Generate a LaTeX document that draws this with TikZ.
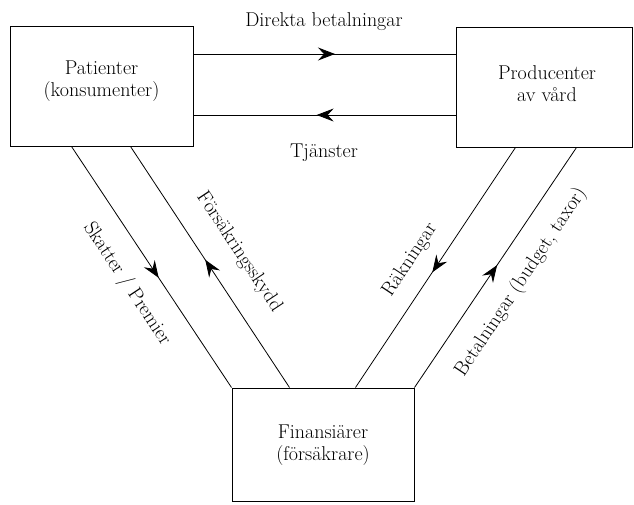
\documentclass[tikz,border=0pt]{standalone}
\usepackage{fontspec}
\usetikzlibrary{arrows.meta,decorations.markings,calc}
\begin{document}
\begin{tikzpicture}[x=1pt,y=-1pt,
  box/.style={draw,line width=1pt,inner sep=0pt},
  boxtext/.style={align=center,inner sep=0pt,font=\fontsize{20}{22}\selectfont},
  lbl/.style={inner sep=0pt,font=\fontsize{20}{22}\selectfont},
  conn/.style={line width=0.8pt},
  midarrow/.style={postaction={decorate,decoration={markings,
     mark=at position #1 with {\arrow{Stealth[length=17pt,width=13pt,inset=6pt]}}}}}]
\useasboundingbox (0,0) rectangle (634,504);
\node[box,minimum width=183pt,minimum height=120pt] (pat) at (101.5,86) {};
\node[box,minimum width=176pt,minimum height=120pt] (prod) at (544,87) {};
\node[box,minimum width=182pt,minimum height=113pt] (fin) at (323,444.5) {};
\node[boxtext] (patT) at (101.5,81) {Patienter\\(konsumenter)};
\node[boxtext] (prodT) at (547,84) {Producenter\\av vård};
\node[boxtext] (finT) at (323,445) {Finansiärer\\(försäkrare)};
% horizontal connectors
\draw[conn,midarrow=0.54] (pat.east |- 0,54) -- (prod.west |- 0,54);
\draw[conn,midarrow=0.53] (prod.west |- 0,115) -- (pat.east |- 0,115);
% diagonal connectors
\draw[conn,midarrow=0.545] ($(pat.south west)+(62,0)$) -- (fin.north west);
\draw[conn,midarrow=0.53] ($(fin.north west)+(58,0)$) -- ($(pat.south west)+(121,0)$);
\draw[conn,midarrow=0.52] ($(prod.south west)+(60,0)$) -- ($(fin.north west)+(124,0)$);
\draw[conn,midarrow=0.51] (fin.north east) -- ($(prod.south west)+(121,0)$);
% labels
\node[lbl] (l1) at (324,22) {Direkta betalningar};
\node[lbl] (l2) at (324,153) {Tjänster};
\node[lbl,rotate=-56.5] (l3) at (127,284) {Skatter / Premier};
\node[lbl,rotate=-56.5] (l4) at (239,252) {Försäkringsskydd};
\node[lbl,rotate=56.5] (l5) at (410,260) {Räkningar};
\node[lbl,rotate=56.5] (l6) at (521,282) {Betalningar (budget, taxor)};
\end{tikzpicture}
\end{document}
